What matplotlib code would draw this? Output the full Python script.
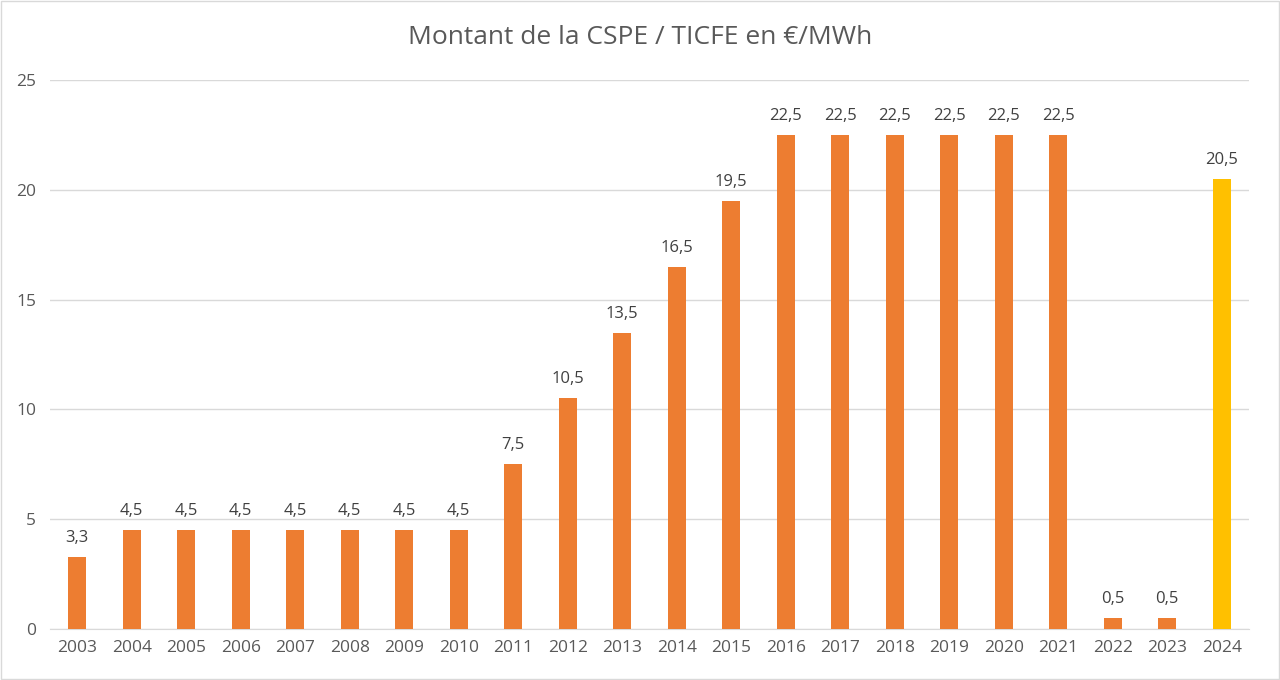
from matplotlib import pyplot as plt
import numpy as np

years = [str(y) for y in range(2003, 2025)]
values = [3.3, 4.5, 4.5, 4.5, 4.5, 4.5, 4.5, 4.5, 7.5, 10.5, 13.5, 16.5,
          19.5, 22.5, 22.5, 22.5, 22.5, 22.5, 22.5, 0.5, 0.5, 20.5]
colors = ['#ED7D31'] * 21 + ['#FFC000']

plt.rcParams['font.family'] = ['Open Sans', 'DejaVu Sans']

fig = plt.figure(figsize=(12.8, 6.8), dpi=100)
ax = fig.add_axes([50/1280, 1 - 629/680, 1199/1280, 549/680])

x = np.arange(len(years))
bars = ax.bar(x, values, width=0.33, color=colors, zorder=3)

for xi, v in zip(x, values):
    label = f"{v:g}".replace('.', ',')
    ax.text(xi, v + 0.5, label, ha='center', va='bottom',
            fontsize=12, color='#404040')

ax.set_xlim(-0.5, len(years) - 0.5)
ax.set_ylim(0, 25)
ax.set_yticks([0, 5, 10, 15, 20, 25])
ax.set_xticks(x)
ax.set_xticklabels(years)
ax.tick_params(axis='both', length=0, labelsize=12.5, colors='#595959')
ax.tick_params(axis='x', pad=8)
ax.tick_params(axis='y', pad=10)
ax.grid(axis='y', color='#D9D9D9', linewidth=1, zorder=0)

for s in ['top', 'right', 'left']:
    ax.spines[s].set_visible(False)
ax.spines['bottom'].set_color('#D9D9D9')

fig.text(0.5, 1 - 37/680, "Montant de la CSPE / TICFE en €/MWh",
         ha='center', va='center', fontsize=19, color='#595959')

fig.patches.append(plt.Rectangle((0.001, 0.001), 0.998, 0.998,
                                 transform=fig.transFigure, fill=False,
                                 edgecolor='#D9D9D9', linewidth=1))

fig.savefig('out.png', dpi=100)
